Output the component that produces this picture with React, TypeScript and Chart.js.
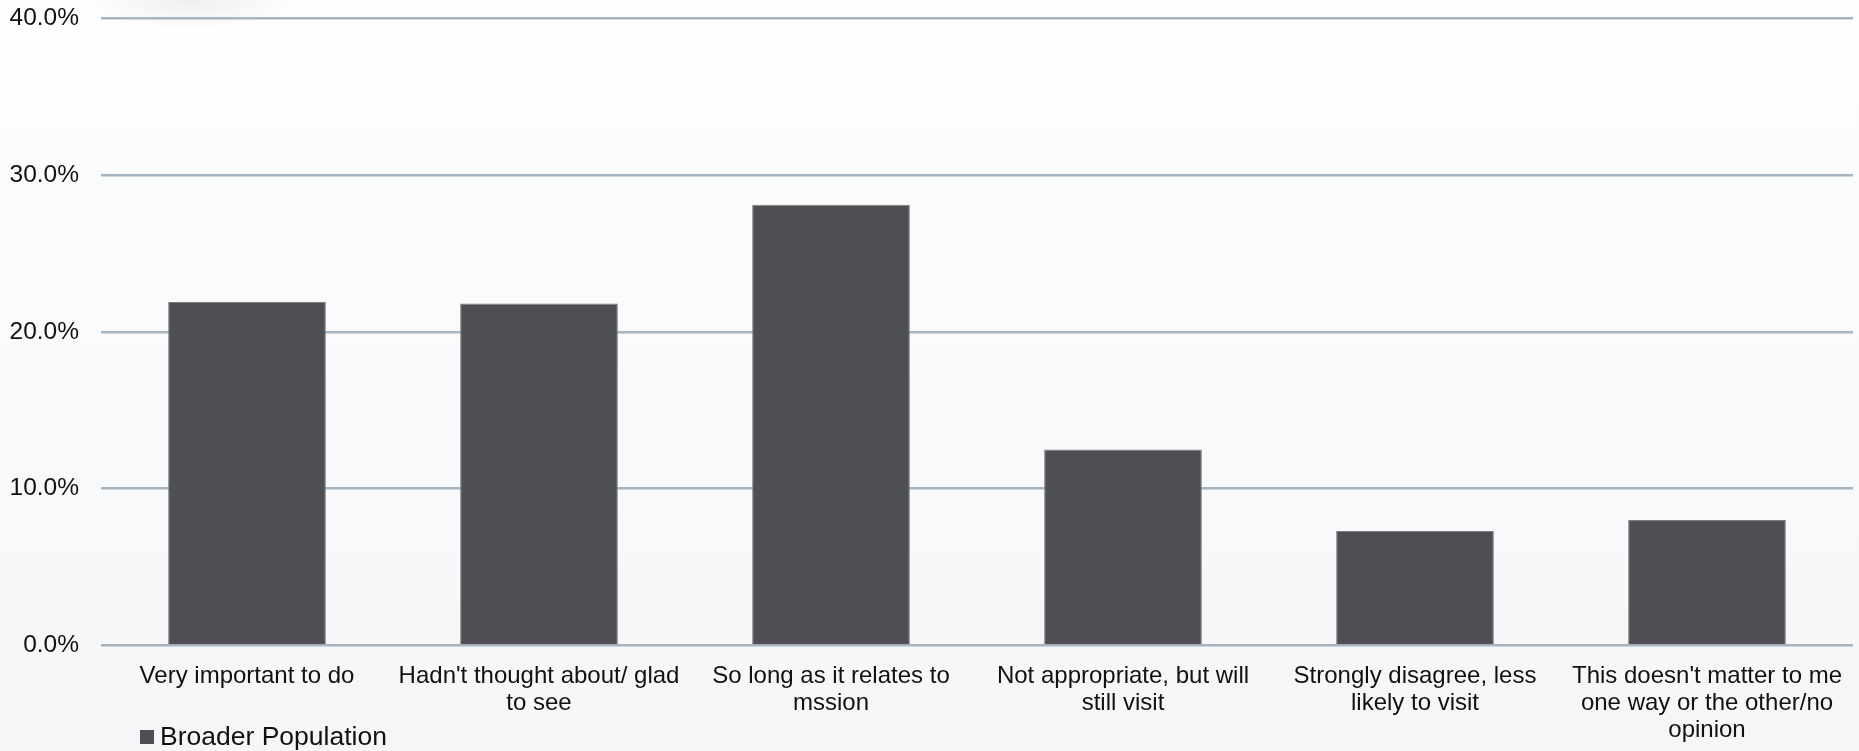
import React, { useEffect, useRef } from "react";
import { Chart, registerables } from "chart.js";

Chart.register(...registerables);

const categories: (string | string[])[] = [
  "Very important to do",
  ["Hadn't thought about/ glad", "to see"],
  ["So long as it relates to", "mssion"],
  ["Not appropriate, but will", "still visit"],
  ["Strongly disagree, less", "likely to visit"],
  ["This doesn't matter to me", "one way or the other/no", "opinion"],
];
const seriesLabel = "Broader Population";
const broaderPopulation = [21.9, 21.8, 28.1, 12.5, 7.3, 8.0];
const yMin = 0;
const yMax = 40;
const yStep = 10;

const W = 1859;
const H = 751;
const FONT = "'Liberation Sans', Arial, sans-serif";
const BAR = "#4e4f53";

const legendPlugin = {
  id: "customLegend",
  afterDraw(chart: any) {
    const ctx = chart.ctx;
    const ds = chart.data.datasets[0];
    ctx.save();
    ctx.fillStyle = ds.backgroundColor;
    ctx.fillRect(140, 730, 14, 14);
    ctx.fillStyle = "#111";
    ctx.font = `26.5px ${FONT}`;
    ctx.textBaseline = "alphabetic";
    ctx.textAlign = "left";
    ctx.fillText(ds.label, 160, 745);
    ctx.restore();
  },
};

export default function App() {
  const ref = useRef<HTMLCanvasElement>(null);

  useEffect(() => {
    document.body.style.margin = "0";
    const chart = new Chart(ref.current!, {
      type: "bar",
      data: {
        labels: categories,
        datasets: [
          {
            label: seriesLabel,
            data: broaderPopulation,
            backgroundColor: BAR,
            borderColor: "#7c7d81",
            borderWidth: 1,
            barPercentage: 0.54,
            categoryPercentage: 1,
          },
        ],
      },
      options: {
        responsive: false,
        animation: false,
        layout: { padding: { top: 18, right: 6, bottom: 0, left: 0 } },
        plugins: {
          legend: { display: false },
          tooltip: { enabled: false },
        },
        scales: {
          x: {
            grid: { display: false },
            border: { display: false },
            ticks: {
              color: "#111",
              font: { family: FONT, size: 24, lineHeight: 1.13 },
              padding: 9,
              maxRotation: 0,
              autoSkip: false,
            },
            afterFit(scale: any) {
              scale.height = 105.5;
              scale.paddingLeft = 0;
              scale.paddingRight = 0;
              scale.paddingTop = 0;
              scale.paddingBottom = 0;
            },
          },
          y: {
            min: yMin,
            max: yMax,
            border: { display: false },
            grid: { color: "#a6b5c2", lineWidth: 2.5, drawTicks: false },
            ticks: {
              stepSize: yStep,
              color: "#111",
              font: { family: FONT, size: 24.5 },
              padding: 22,
              callback: (v: any) => Number(v).toFixed(1) + "%",
            },
            afterFit(scale: any) {
              scale.width = 101;
              scale.paddingTop = 0;
              scale.paddingBottom = 0;
              scale.paddingLeft = 0;
              scale.paddingRight = 0;
            },
          },
        },
      },
      plugins: [legendPlugin],
    });
    return () => chart.destroy();
  }, []);

  return (
    <div
      style={{
        position: "fixed",
        left: 0,
        top: 0,
        width: W,
        height: H,
        background:
          "radial-gradient(ellipse 110px 30px at 190px 0px, rgba(0,0,0,0.06), rgba(0,0,0,0)), linear-gradient(to bottom, #fdfefe 0%, #f9fafb 50%, #f5f6f8 100%)",
      }}
    >
      <canvas ref={ref} width={W} height={H} style={{ display: "block" }} />
    </div>
  );
}
